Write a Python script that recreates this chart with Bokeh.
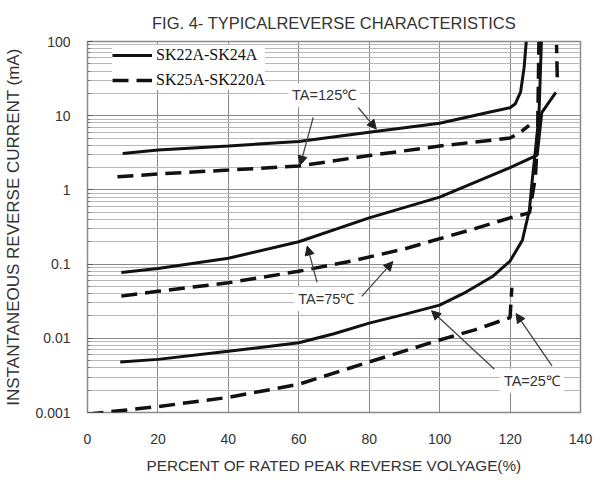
import numpy as np
from bokeh.plotting import figure
from bokeh.models import (FixedTicker, CustomJSTickFormatter, Label, Arrow,
                          NormalHead, Legend, LegendItem)
from bokeh.embed import file_html
from bokeh.resources import INLINE

# ---- data ----
s125_x = [10, 20, 40, 60, 80, 100, 114, 120, 121.5, 123, 124, 124.6]
s125_y = [3.1, 3.45, 3.9, 4.5, 6.0, 7.9, 11.1, 12.8, 14.5, 21, 45, 100]

d125_x = [8.5, 20, 40, 60, 80, 100, 120, 123, 125.4, np.nan, 133.4, 133.2]
d125_y = [1.5, 1.64, 1.85, 2.1, 2.9, 3.9, 5.0, 6.0, 7.4, np.nan, 33, 90]

s75_x = [9.6, 20, 40, 60, 80, 100, 120, 127.7, 129.0, 133.0]
s75_y = [0.077, 0.087, 0.12, 0.2, 0.42, 0.8, 2.0, 2.95, 11, 20.6]

d75_x = [9.6, 20, 40, 60, 75, 90, 100, 110, 120, 125.5, 127.2, 127.8, 128.2]
d75_y = [0.037, 0.043, 0.056, 0.08, 0.11, 0.16, 0.22, 0.3, 0.42, 0.49, 1.5, 5, 100]

s25_x = [9.3, 20, 40, 60, 70, 80, 90, 100, 107.5, 115, 120, 123.5, 125.5, 126.3, 126.9, 128.2, 128.9]
s25_y = [0.0048, 0.0052, 0.0067, 0.0087, 0.0115, 0.016, 0.021, 0.028, 0.042, 0.068, 0.11, 0.21, 0.54, 1.36, 2.5, 10, 100]

d25_x = [0, 20, 40, 60, 80, 100, 110, 120, 120.5]
d25_y = [0.00095, 0.0012, 0.0016, 0.0024, 0.0048, 0.0095, 0.013, 0.019, 0.048]

x_ticks = [0, 20, 40, 60, 80, 100, 120, 140]
y_ticks = [0.001, 0.01, 0.1, 1, 10, 100]
y_minor = [k * 10.0 ** e for e in range(-3, 2) for k in range(2, 10)]

series_names = ["SK22A-SK24A", "SK25A-SK220A"]

# annotation labels: text, x, y
ann_text = ["TA=125\u2103", "TA=75\u2103", "TA=25\u2103"]
ann_x = [67.2, 67.8, 126.2]
ann_y = [18.8, 0.0335, 0.00267]

# arrows: x_start, y_start, x_end, y_end
arr_x0 = [76.8, 64.1, 65.2, 77.9, 115.5, 131.9]
arr_y0 = [13.0, 9.5, 0.0567, 0.0368, 0.00386, 0.00424]
arr_x1 = [82.0, 60.4, 62.4, 86.7, 97.7, 121.7]
arr_y1 = [6.6, 2.16, 0.175, 0.108, 0.0235, 0.0215]

FONT = "Liberation Sans"
TXT = "#333333"

p = figure(width=598, height=476, x_range=(0, 140), y_range=(0.001, 100),
           y_axis_type="log", output_backend="svg", toolbar_location=None,
           min_border_left=87, min_border_right=18, min_border_top=41,
           min_border_bottom=62)

p.title.text = "FIG. 4- TYPICALREVERSE CHARACTERISTICS"
p.title.align = "center"
p.title.text_font = FONT
p.title.text_font_size = "16.5px"
p.title.text_font_style = "normal"
p.title.text_color = TXT
p.title.standoff = 19

p.xaxis.ticker = FixedTicker(ticks=x_ticks)
p.yaxis.ticker = FixedTicker(ticks=y_ticks, minor_ticks=y_minor)
p.yaxis.formatter = CustomJSTickFormatter(code="return String(Number(tick.toPrecision(3)))")

for ax in (p.xaxis, p.yaxis):
    ax.axis_line_color = None
    ax.major_label_text_font = FONT
    ax.major_label_text_font_size = "14px"
    ax.major_label_text_color = TXT
    ax.axis_label_text_font = FONT
    ax.axis_label_text_font_style = "normal"
    ax.axis_label_text_color = TXT

p.xaxis.major_tick_line_color = None
p.xaxis.minor_tick_line_color = None
p.xaxis.major_label_standoff = 15
p.xaxis.axis_label = "PERCENT OF RATED PEAK REVERSE VOLYAGE(%)"
p.xaxis.axis_label_text_font_size = "15.3px"
p.xaxis.axis_label_standoff = 10

p.yaxis.major_tick_in = 5
p.yaxis.major_tick_out = 0
p.yaxis.minor_tick_in = 3
p.yaxis.minor_tick_out = 0
p.yaxis.major_tick_line_color = "#555555"
p.yaxis.minor_tick_line_color = "#777777"
p.yaxis.major_label_standoff = 17
p.yaxis.axis_label = "INSTANTANEOUS REVERSE CURRENT (mA)"
p.yaxis.axis_label_text_font_size = "17px"
p.yaxis.axis_label_standoff = 9

p.xgrid.grid_line_color = "#8a8a8a"
p.ygrid.grid_line_color = "#8a8a8a"
p.ygrid.minor_grid_line_color = "#b8b8b8"
p.outline_line_color = "#8a8a8a"
p.outline_line_width = 1.5

LC = "#111111"
r_s125 = p.line(s125_x, s125_y, line_color=LC, line_width=3)
r_d125 = p.line(d125_x, d125_y, line_color=LC, line_width=3.5, line_dash="16 8")
p.line(s75_x, s75_y, line_color=LC, line_width=3)
p.line(d75_x, d75_y, line_color=LC, line_width=3.5, line_dash="16 8")
p.line(s25_x, s25_y, line_color=LC, line_width=3)
p.line(d25_x, d25_y, line_color=LC, line_width=3.5, line_dash="16 8")

for x0, y0, x1, y1 in zip(arr_x0, arr_y0, arr_x1, arr_y1):
    p.add_layout(Arrow(end=NormalHead(size=9, fill_color="#222222", line_color="#222222"),
                       x_start=x0, y_start=y0, x_end=x1, y_end=y1,
                       line_color="#444444", line_width=1.3))

for t, x, y in zip(ann_text, ann_x, ann_y):
    p.add_layout(Label(x=x, y=y, text=t, text_align="center", text_baseline="middle",
                       text_font=FONT, text_font_size="14.5px", text_color=TXT,
                       background_fill_color="white", padding=4))

legend = Legend(items=[LegendItem(label=series_names[0], renderers=[r_s125]),
                       LegendItem(label=series_names[1], renderers=[r_d125])],
                location=(25, 322))
legend.glyph_width = 40
legend.glyph_height = 20
legend.label_height = 20
legend.spacing = 5
legend.padding = 4
legend.margin = 0
legend.label_standoff = 4
legend.label_text_font = "Liberation Serif"
legend.label_text_font_size = "16px"
legend.label_text_color = "#111111"
legend.background_fill_color = "white"
legend.background_fill_alpha = 1.0
legend.border_line_color = None
p.add_layout(legend)

open("out.html", "w").write(file_html(p, INLINE))
